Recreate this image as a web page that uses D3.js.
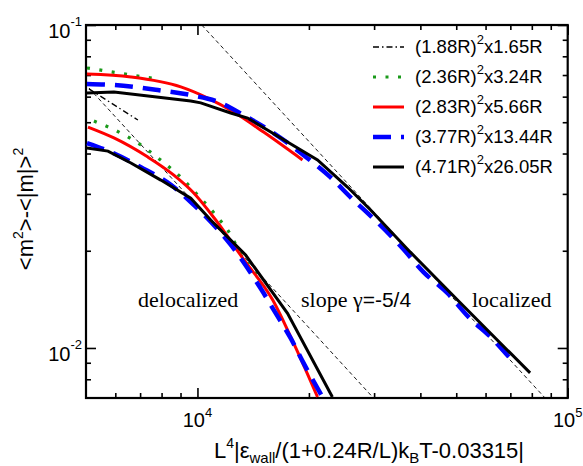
<html>
<head>
<meta charset="utf-8">
<style>
  body {margin: 0; background: #fff;}
  svg {display: block;}
  .tick-label {font-family: "Liberation Sans", Arial, sans-serif; font-size: 20px;}
  .title {font-family: "Liberation Sans", Arial, sans-serif; font-size: 22px;}
  .legend text {font-family: "Liberation Sans", Arial, sans-serif; font-size: 18.5px;}
  .note {font-family: "Liberation Serif", "Times New Roman", serif; font-size: 22px;}
</style>
</head>
<body>
<svg></svg>
<script src="https://d3js.org/d3.v7.min.js"></script>
<script>
// values: [x, y]
const dashdot188 = [[5093, 0.0634], [6905, 0.0508]];
const green236Upper = [[5030, 0.0736], [5912, 0.0715], [6905, 0.0695], [7530, 0.0685]];
const green236Lower = [[5253, 0.0504], [6136, 0.0466], [7036, 0.0425], [8012, 0.0379], [9016, 0.0338],
  [10081, 0.0295], [11203, 0.0258], [12294, 0.0224], [12920, 0.0201], [13912, 0.0178], [14636, 0.0165], [15089, 0.0151]];
const red283Upper = [[5030, 0.0705], [6611, 0.0690], [9016, 0.0643], [10660, 0.0594], [12523, 0.0538],
  [15089, 0.0466], [19218, 0.0382]];
const red283Lower = [[5062, 0.0483], [5949, 0.0447], [7347, 0.0390], [8633, 0.0343], [9772, 0.0302],
  [11203, 0.0249], [13328, 0.0188], [15958, 0.0141], [18290, 0.0102], [21098, 0.00705]];
const blue377Upper = [[5030, 0.0657], [5949, 0.0652], [7816, 0.0629], [9592, 0.0607], [11554, 0.0574],
  [13328, 0.0526], [16054, 0.0463], [19826, 0.0387], [22856, 0.0338], [26380, 0.0287], [28774, 0.0262],
  [35760, 0.0204], [40738, 0.0172], [47296, 0.0148], [53878, 0.0125], [62517, 0.0107], [71252, 0.00905]];
const blue377Lower = [[5030, 0.0431], [5839, 0.0404], [7036, 0.0363], [8474, 0.0320], [9592, 0.0283],
  [10859, 0.0246], [12294, 0.0209], [14810, 0.0153], [16251, 0.01284], [17840, 0.01074], [19336, 0.00899], [21760, 0.00705]];
const black471Upper = [[5030, 0.0616], [5949, 0.0620], [9592, 0.0582], [10207, 0.0574], [12294, 0.0534],
  [13661, 0.0515], [17509, 0.0434], [21098, 0.0382], [25420, 0.0315], [29315, 0.0268], [37584, 0.0198],
  [51263, 0.0138], [79143, 0.00837]];
const black471Lower = [[5030, 0.0416], [5732, 0.0407], [6611, 0.0374], [7963, 0.0331], [9592, 0.0291],
  [10859, 0.0249], [13494, 0.0194], [17509, 0.0128], [23142, 0.00705]];
// slope -5/4 guide lines
const guideUpper = [[10270, 0.1], [86869, 0.007]];
const guideLower = [[5093, 0.0638], [29876, 0.007]];

const legendBase = ["(1.88R)", "(2.36R)", "(2.83R)", "(3.77R)", "(4.71R)"];
const legendTail = ["x1.65R", "x3.24R", "x5.66R", "x13.44R", "x26.05R"];

const xMajor = [1e4, 1e5];
const xMajorExp = ["4", "5"];
const xMinor = [6000, 7000, 8000, 9000, 2e4, 3e4, 4e4, 5e4, 6e4, 7e4, 8e4, 9e4];
const yMajor = [0.1, 0.01];
const yMajorExp = ["-1", "-2"];
const yMinor = [0.09, 0.08, 0.07, 0.06, 0.05, 0.04, 0.03, 0.02, 0.009, 0.008];

const width = 583, height = 466;
const pLeft = 86, pRight = 567.7, pTop = 25, pBottom = 398;

const svg = d3.select("svg").attr("width", width).attr("height", height);

const x = d3.scaleLog().domain([5000, 1e5]).range([pLeft, pRight]);
const y = d3.scaleLog().domain([0.007, 0.1]).range([pBottom, pTop]);

svg.append("clipPath").attr("id", "plot")
  .append("rect").attr("x", pLeft).attr("y", pTop).attr("width", pRight - pLeft).attr("height", pBottom - pTop);

// ticks on all four sides, pointing inwards
function ticks(axis, tr, vals, size) {
  const g = svg.append("g").attr("transform", tr)
    .call(axis.tickValues(vals).tickSize(-size).tickSizeOuter(0).tickFormat(""));
  g.select(".domain").remove();
  g.selectAll("line").attr("stroke", "#000").attr("stroke-width", 1.6);
}
ticks(d3.axisBottom(x), `translate(0,${pBottom})`, xMajor, 10);
ticks(d3.axisBottom(x), `translate(0,${pBottom})`, xMinor, 5);
ticks(d3.axisTop(x), `translate(0,${pTop})`, xMajor, 10);
ticks(d3.axisTop(x), `translate(0,${pTop})`, xMinor, 5);
ticks(d3.axisLeft(y), `translate(${pLeft},0)`, yMajor, 10);
ticks(d3.axisLeft(y), `translate(${pLeft},0)`, yMinor, 5);
ticks(d3.axisRight(y), `translate(${pRight},0)`, yMajor, 10);
ticks(d3.axisRight(y), `translate(${pRight},0)`, yMinor, 5);

svg.append("rect").attr("x", pLeft).attr("y", pTop).attr("width", pRight - pLeft).attr("height", pBottom - pTop)
  .attr("fill", "none").attr("stroke", "#000").attr("stroke-width", 2.2);

// tick labels
xMajor.forEach((v, i) => {
  const t = svg.append("text").attr("class", "tick-label")
    .attr("x", x(v)).attr("y", pBottom + 29).attr("text-anchor", "middle");
  t.append("tspan").text("10");
  t.append("tspan").attr("dy", -10).attr("font-size", 13).text(xMajorExp[i]);
});
yMajor.forEach((v, i) => {
  const t = svg.append("text").attr("class", "tick-label")
    .attr("x", pLeft - 4).attr("y", y(v) + 13).attr("text-anchor", "end");
  t.append("tspan").text("10");
  t.append("tspan").attr("dy", -12).attr("font-size", 13).text(yMajorExp[i]);
});

// axis titles
const xt = svg.append("text").attr("class", "title").attr("x", 369).attr("y", 458).attr("text-anchor", "middle");
xt.append("tspan").text("L");
xt.append("tspan").attr("dy", -10).attr("font-size", 14).text("4");
xt.append("tspan").attr("dy", 10).text("|\u03b5");
xt.append("tspan").attr("dy", 5).attr("font-size", 15).text("wall");
xt.append("tspan").attr("dy", -5).text("/(1+0.24R/L)k");
xt.append("tspan").attr("dy", 5).attr("font-size", 15).text("B");
xt.append("tspan").attr("dy", -5).text("T-0.03315|");

const yt = svg.append("text").attr("class", "title")
  .attr("transform", "translate(33,209) rotate(-90)").attr("text-anchor", "middle");
yt.append("tspan").text("<m");
yt.append("tspan").attr("dy", -10).attr("font-size", 14).text("2");
yt.append("tspan").attr("dy", 10).text(">-<|m|>");
yt.append("tspan").attr("dy", -10).attr("font-size", 14).text("2");

// curves
const line = d3.line().x(d => x(d[0])).y(d => y(d[1]));
const smooth = d3.line().x(d => x(d[0])).y(d => y(d[1])).curve(d3.curveMonotoneX);
const plot = svg.append("g").attr("clip-path", "url(#plot)").attr("fill", "none");

const styles = [
  {color: "#000", width: 1.3, dash: "6,3,1.5,3"},
  {color: "#1a9a1a", width: 3.2, dash: "3,9.5"},
  {color: "#ff0000", width: 3, dash: null},
  {color: "#0000ff", width: 4.5, dash: "18,10"},
  {color: "#000", width: 3, dash: null}
];
const series = [[dashdot188], [green236Upper, green236Lower], [red283Upper, red283Lower],
  [blue377Upper, blue377Lower], [black471Upper, black471Lower]];

[guideUpper, guideLower].forEach(d => {
  plot.append("path").attr("d", line(d)).attr("stroke", "#000").attr("stroke-width", 0.9)
    .attr("stroke-dasharray", "4,3");
});

series.forEach((group, i) => {
  group.forEach(d => {
    plot.append("path").attr("d", (i === 4 ? line : smooth)(d))
      .attr("stroke", styles[i].color).attr("stroke-width", styles[i].width)
      .attr("stroke-dasharray", styles[i].dash);
  });
});

// legend
const legend = svg.append("g").attr("class", "legend");
legendBase.forEach((b, i) => {
  const ly = 47 + i * 30;
  legend.append("line").attr("x1", 373).attr("x2", 404).attr("y1", ly).attr("y2", ly)
    .attr("stroke", styles[i].color).attr("stroke-width", styles[i].width)
    .attr("stroke-dasharray", styles[i].dash);
  const t = legend.append("text").attr("x", 415).attr("y", ly + 6);
  t.append("tspan").text(b);
  t.append("tspan").attr("dy", -9).attr("font-size", 13).text("2");
  t.append("tspan").attr("dy", 9).text(legendTail[i]);
});

// annotations
svg.append("text").attr("class", "note").attr("x", 138).attr("y", 307).text("delocalized");
const s = svg.append("text").attr("class", "note").attr("x", 301).attr("y", 307);
s.append("tspan").text("slope \u03b3");
s.append("tspan").attr("font-family", "'Liberation Sans', Arial, sans-serif").attr("font-size", 21).text("=-5/4");
svg.append("text").attr("class", "note").attr("x", 472).attr("y", 307).text("localized");
</script>
</body>
</html>
